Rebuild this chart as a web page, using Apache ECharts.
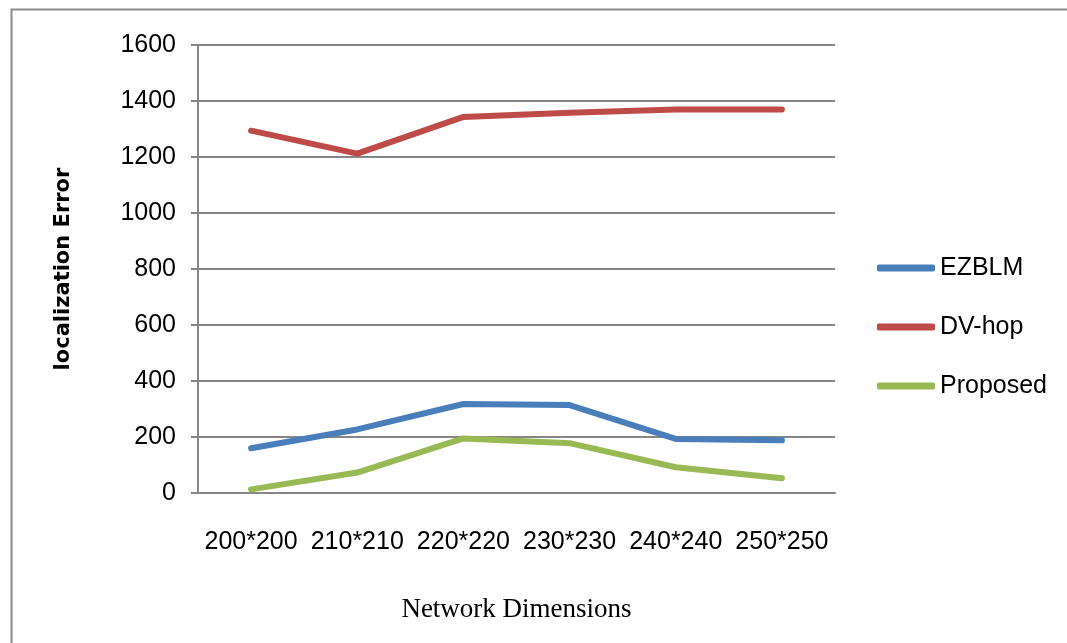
<!DOCTYPE html>
<html>
<head>
<meta charset="utf-8">
<script src="https://cdn.jsdelivr.net/npm/echarts@6/dist/echarts.min.js"></script>
<style>
  html, body { margin: 0; padding: 0; background: #fff; }
  #chart { width: 1067px; height: 643px; }
</style>
</head>
<body>
<div id="chart"></div>
<script>
// Network sizes on the x axis
const dimensions = ['200*200', '210*210', '220*220', '230*230', '240*240', '250*250'];

// Localization error per method
const ezblm    = [160, 227, 318, 314, 193, 188];
const dvHop    = [1294, 1212, 1343, 1358, 1370, 1370];
const proposed = [13, 73, 195, 178, 92, 53];

const seriesNames  = ['EZBLM', 'DV-hop', 'Proposed'];
const seriesColors = ['#4a7ebb', '#be4b48', '#98b954'];
const seriesValues = [ezblm, dvHop, proposed];

const labelFont = "'Liberation Sans', Arial, sans-serif";
const gridColor = '#868686';

const chart = echarts.init(document.getElementById('chart'));

chart.setOption({
  animation: false,
  backgroundColor: '#ffffff',
  graphic: [{
    type: 'rect',
    left: 9, top: 7,
    shape: { width: 1200, height: 800 },
    style: { fill: 'none', stroke: '#8c8c8c', lineWidth: 2 },
    z: -10
  }],
  grid: { left: 198, right: 232, top: 45, bottom: 150 },
  legend: {
    orient: 'vertical',
    left: 877,
    top: 253,
    padding: 0,
    itemWidth: 58,
    itemHeight: 7,
    itemGap: 29,
    icon: 'roundRect',
    textStyle: { fontFamily: labelFont, fontSize: 25, color: '#000', lineHeight: 30 },
    data: seriesNames
  },
  xAxis: {
    type: 'category',
    data: dimensions,
    boundaryGap: true,
    name: 'Network Dimensions',
    nameLocation: 'middle',
    nameGap: 103,
    nameTextStyle: { fontFamily: "'Liberation Serif', serif", fontSize: 27, color: '#000' },
    axisLine: { lineStyle: { color: gridColor, width: 2 } },
    axisTick: { show: false },
    axisLabel: { fontFamily: labelFont, fontSize: 25, color: '#000', margin: 37, interval: 0 }
  },
  yAxis: {
    type: 'value',
    min: 0,
    max: 1600,
    interval: 200,
    name: 'localization Error',
    nameLocation: 'middle',
    nameGap: 124,
    nameTextStyle: { fontFamily: "'DejaVu Sans', sans-serif", fontWeight: 'bold', fontSize: 21, color: '#000' },
    axisLine: { show: true, lineStyle: { color: gridColor, width: 2 } },
    axisTick: { show: true, length: 7, lineStyle: { color: gridColor, width: 2 } },
    axisLabel: { fontFamily: labelFont, fontSize: 25, color: '#000', margin: 22, formatter: v => String(v) },
    splitLine: { lineStyle: { color: gridColor, width: 2 } }
  },
  series: seriesNames.map((name, i) => ({
    name: name,
    type: 'line',
    data: seriesValues[i],
    symbol: 'none',
    color: seriesColors[i],
    lineStyle: { width: 6, color: seriesColors[i], cap: 'round', join: 'round' }
  }))
});
</script>
</body>
</html>
